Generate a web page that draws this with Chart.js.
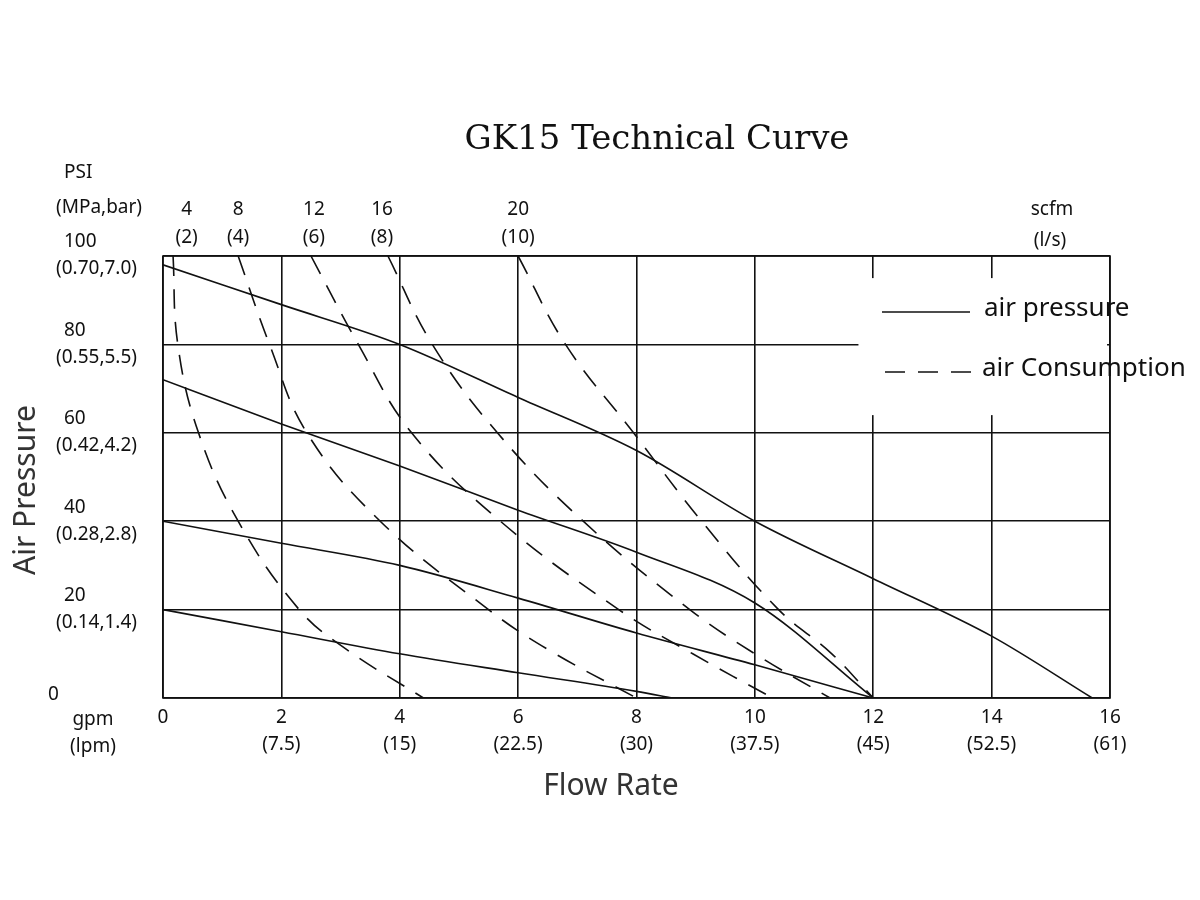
<!DOCTYPE html>
<html>
<head>
<meta charset="utf-8">
<script src="https://cdn.jsdelivr.net/npm/chart.js@4"></script>
<style>
  html, body { margin: 0; padding: 0; background: #fff; }
  #wrap { width: 1200px; height: 900px; }
</style>
</head>
<body>
<div id="wrap"><canvas id="chart" width="1200" height="900"></canvas></div>
<script>
// flow (gpm) / pressure (psi) points
const pressureFlow = [
  [0, 2, 4, 6, 8, 10, 12, 14, 15.7],
  [0, 2, 4, 6, 8, 10, 12],
  [0, 2, 4, 6, 8, 10, 12],
  [0, 2, 4, 6, 8, 8.6]
];
const pressurePsi = [
  [98, 89, 80, 68, 56, 40, 27, 14, 0],
  [72, 62, 52.5, 42.5, 33, 21.5, 0],
  [40, 35, 30, 22.6, 14.7, 7.5, 0],
  [20, 15, 10, 5.7, 1.5, 0]
];
// air consumption curves (4, 8, 12, 16, 20 scfm)
const consFlow = [
  [0.17, 0.25, 0.6, 1.27, 2.3, 3.1, 4.4],
  [1.27, 1.8, 2.43, 3.67, 5.5, 6.5, 8],
  [2.5, 3.3, 4.2, 5.7, 7.7, 8.95, 10.3],
  [3.8, 4.55, 5.65, 7.1, 8.9, 10, 11.27],
  [6, 6.8, 7.95, 9.1, 10.4, 11.3, 12]
];
const consPsi = [
  [100, 80, 60, 40, 20, 11, 0],
  [100, 80, 60, 40, 20, 11, 0],
  [100, 80, 60, 40, 20, 10, 0],
  [100, 80, 60, 40, 20, 10, 0],
  [100, 80, 60, 40, 20, 10, 0]
];

const gpmTicks = [0, 2, 4, 6, 8, 10, 12, 14, 16];
const lpmTicks = ['', '(7.5)', '(15)', '(22.5)', '(30)', '(37.5)', '(45)', '(52.5)', '(61)'];
const psiTicks = [0, 20, 40, 60, 80, 100];
const mpaTicks = ['', '(0.14,1.4)', '(0.28,2.8)', '(0.42,4.2)', '(0.55,5.5)', '(0.70,7.0)'];
const scfmTicks = ['4', '8', '12', '16', '20'];
const lsTicks = ['(2)', '(4)', '(6)', '(8)', '(10)'];
const scfmFlowPos = [0.4, 1.27, 2.55, 3.7, 6];

const toPoints = (xs, ys) => xs.map((x, i) => ({ x: x, y: ys[i] }));

const datasets = [];
pressureFlow.forEach((xs, i) => datasets.push({
  data: toPoints(xs, pressurePsi[i]),
  borderColor: '#111', borderWidth: 1.6, pointRadius: 0,
  cubicInterpolationMode: 'monotone'
}));
consFlow.forEach((xs, i) => datasets.push({
  data: toPoints(xs, consPsi[i]),
  borderColor: '#111', borderWidth: 1.6, pointRadius: 0,
  borderDash: [20, 13], tension: 0.4
}));

const sans = '"Noto Sans", sans-serif';

const decor = {
  id: 'decor',
  beforeDatasetsDraw(chart) {
    const { ctx, scales: { x, y } } = chart;
    // white patch behind the legend
    ctx.save();
    ctx.fillStyle = '#fff';
    ctx.fillRect(x.getPixelForValue(11.75), y.getPixelForValue(95), x.getPixelForValue(15.95) - x.getPixelForValue(11.75), y.getPixelForValue(64) - y.getPixelForValue(95));
    ctx.restore();
  },
  afterDraw(chart) {
    const { ctx, chartArea: a, scales: { x, y } } = chart;
    ctx.save();
    ctx.strokeStyle = '#111';
    ctx.lineWidth = 1.6;
    ctx.strokeRect(a.left, a.top, a.right - a.left, a.bottom - a.top);

    ctx.fillStyle = '#111';
    ctx.font = '34px "DejaVu Serif", serif';
    ctx.textAlign = 'center';
    ctx.textBaseline = 'middle';
    ctx.fillText('GK15 Technical Curve', 657, 140);

    ctx.font = '19px ' + sans;
    // y ticks
    ctx.textAlign = 'left';
    psiTicks.forEach((v, i) => {
      const py = y.getPixelForValue(v);
      if (v === 0) { ctx.fillText('0', 48, py - 3); return; }
      ctx.fillText(String(v), 64, py - 14);
      ctx.fillText(mpaTicks[i], 56, py + 13);
    });
    ctx.fillText('PSI', 64, 173);
    ctx.fillText('(MPa,bar)', 56, 208);

    // x ticks
    ctx.textAlign = 'center';
    gpmTicks.forEach((v, i) => {
      const px = x.getPixelForValue(v);
      ctx.fillText(String(v), px, 718);
      if (lpmTicks[i]) ctx.fillText(lpmTicks[i], px, 745);
    });
    ctx.fillText('gpm', 93, 720);
    ctx.fillText('(lpm)', 93, 747);

    // top scfm ticks
    scfmTicks.forEach((t, i) => {
      const px = x.getPixelForValue(scfmFlowPos[i]);
      ctx.fillText(t, px, 210);
      ctx.fillText(lsTicks[i], px, 238);
    });
    ctx.fillText('scfm', 1052, 210);
    ctx.fillText('(l/s)', 1050, 241);

    // axis titles
    ctx.fillStyle = '#333';
    ctx.font = '30px ' + sans;
    ctx.fillText('Flow Rate', 611, 786);
    ctx.save();
    ctx.translate(26, 490);
    ctx.rotate(-Math.PI / 2);
    ctx.fillText('Air Pressure', 0, 0);
    ctx.restore();

    // legend
    ctx.fillStyle = '#111';
    ctx.font = '26px ' + sans;
    ctx.textAlign = 'left';
    ctx.fillText('air pressure', 984, 309);
    ctx.fillText('air Consumption', 982, 369);
    ctx.beginPath();
    ctx.moveTo(882, 312); ctx.lineTo(970, 312);
    ctx.stroke();
    ctx.setLineDash([20, 13]);
    ctx.beginPath();
    ctx.moveTo(885, 372); ctx.lineTo(975, 372);
    ctx.stroke();
    ctx.restore();
  }
};

new Chart(document.getElementById('chart'), {
  type: 'line',
  data: { datasets: datasets },
  options: {
    responsive: false,
    animation: false,
    layout: { padding: { left: 163, right: 90, top: 256, bottom: 202 } },
    plugins: { legend: { display: false }, tooltip: { enabled: false } },
    scales: {
      x: {
        type: 'linear', min: 0, max: 16,
        ticks: { display: false, stepSize: 2 },
        grid: { color: '#111', lineWidth: 1.6, drawTicks: false },
        border: { display: false }
      },
      y: {
        min: 0, max: 100,
        ticks: { display: false, stepSize: 20 },
        grid: { color: '#111', lineWidth: 1.6, drawTicks: false },
        border: { display: false }
      }
    }
  },
  plugins: [decor]
});
</script>
</body>
</html>
